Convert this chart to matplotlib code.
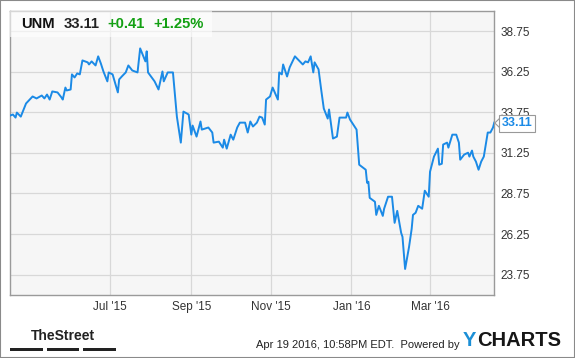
import matplotlib
matplotlib.use("Agg")
import matplotlib.pyplot as plt
from matplotlib.patches import Rectangle, Polygon
import pandas as pd

plt.rcParams["font.family"] = ["Liberation Sans", "DejaVu Sans"]

# UNM daily close (days counted from the first session)
start_date = "2015-04-16"
day_offsets = [
    0, 2, 4, 5, 8, 12, 17, 20, 24, 26, 28, 30, 32, 36, 39, 40, 42, 43, 46, 47,
    49, 51, 53, 55, 59, 60, 62, 65, 67, 69, 71, 74, 75, 78, 82, 83, 85, 88, 90, 93,
    97, 99, 103, 104, 105, 110, 113, 116, 117, 120, 124, 127, 130, 132, 136, 138, 139, 142, 145, 146,
    151, 154, 155, 159, 162, 163, 165, 168, 170, 173, 175, 179, 181, 183, 185, 188, 190, 192, 194, 195,
    198, 200, 204, 205, 207, 208, 211, 213, 217, 223, 225, 227, 229, 231, 232, 235, 237, 239, 242, 243,
    246, 249, 251, 256, 257, 259, 264, 266, 271, 272, 273, 274, 278, 279, 281, 284, 285, 288, 290, 291,
    293, 295, 298, 299, 301, 304, 306, 307, 309, 311, 314, 316, 319, 320, 323, 326, 327, 329, 330, 333,
    334, 337, 340, 342, 343, 346, 349, 350, 352, 353, 355, 357, 359, 361, 364, 366, 368, 369,
]
prices = [
    33.55, 33.61, 33.42, 33.73, 33.48, 34.29, 34.72, 34.60, 34.78, 34.60,
    34.84, 34.53, 35.03, 34.97, 34.66, 34.53, 35.27, 35.09, 35.15, 36.08,
    35.89, 36.14, 36.08, 36.94, 36.82, 36.69, 36.88, 36.63, 37.19, 36.76,
    36.26, 35.65, 36.20, 36.08, 34.97, 35.77, 35.95, 36.20, 36.63, 36.32,
    36.20, 37.68, 36.88, 37.50, 36.20, 35.65, 35.15, 36.26, 35.65, 36.20,
    36.20, 33.48, 31.88, 33.79, 33.61, 32.37, 32.93, 32.25, 33.18, 32.68,
    32.81, 32.50, 31.88, 31.94, 31.57, 32.06, 31.51, 32.37, 32.06, 32.81,
    33.11, 33.11, 32.50, 33.18, 32.87, 33.11, 33.48, 33.42, 32.99, 34.53,
    34.72, 35.27, 34.53, 36.20, 36.08, 36.69, 35.95, 36.51, 37.19, 36.69,
    36.88, 36.82, 37.19, 36.20, 36.82, 36.39, 35.15, 33.98, 33.36, 33.92,
    32.13, 32.25, 33.42, 33.42, 33.73, 33.30, 32.68, 30.52, 30.21, 29.41,
    29.47, 28.48, 28.24, 27.43, 27.99, 27.37, 27.81, 28.55, 28.55, 28.55,
    26.94, 27.68, 26.32, 26.08, 24.10, 25.46, 26.57, 27.43, 27.56, 27.99,
    27.81, 28.92, 28.55, 30.09, 31.02, 31.51, 30.52, 30.58, 31.76, 31.88,
    31.57, 32.37, 32.37, 31.88, 30.83, 31.14, 31.26, 31.02, 31.39, 31.02,
    30.71, 30.21, 30.71, 31.02, 32.50, 32.50, 32.81, 33.11,
]
y_ticks = [23.75, 26.25, 28.75, 31.25, 33.75, 36.25, 38.75]
x_tick_dates = ["2015-07-01", "2015-09-01", "2015-11-01", "2016-01-01", "2016-03-01"]
x_tick_labels = ["Jul '15", "Sep '15", "Nov '15", "Jan '16", "Mar '16"]
ticker_name = "UNM"
last_price = "33.11"
change_abs = "+0.41"
change_pct = "+1.25%"

dates = pd.Timestamp(start_date) + pd.to_timedelta(day_offsets, unit="D")

W, H = 575, 358
fig = plt.figure(figsize=(W / 100, H / 100), dpi=100)
fig.patch.set_facecolor("white")


def px(x, y):
    # pixel position (from top-left) -> figure fraction
    return x / W, 1 - y / H


ax_l, ax_r, ax_t, ax_b = 10.3, 494.3, 10.7, 295.0
ax = fig.add_axes([ax_l / W, 1 - ax_b / H, (ax_r - ax_l) / W, (ax_b - ax_t) / H])
ax.set_facecolor("#f6f6f6")

ax.plot(dates, prices, color="#1b8ae6", linewidth=1.4, zorder=3)

ax.set_xlim(pd.Timestamp(start_date), dates[-1])
ax.set_ylim(22.5, 40.0)
ax.set_yticks(y_ticks)
ax.set_yticklabels([f"{t:.2f}" for t in y_ticks])
ax.set_xticks(pd.to_datetime(x_tick_dates))
ax.set_xticklabels(x_tick_labels)
ax.yaxis.tick_right()
ax.tick_params(axis="both", length=0, labelsize=8.5, labelcolor="#333333")
ax.tick_params(axis="y", pad=4.5)
ax.tick_params(axis="x", pad=4)
ax.grid(True, color="#d8d8d8", linewidth=0.9)
ax.set_axisbelow(True)
for sp in ax.spines.values():
    sp.set_color("#9a9a9a")
    sp.set_linewidth(1.0)

# header box with quote
x0, y0 = px(10.3, 36.7)
x1, y1 = px(212, 10.7)
fig.patches.append(Rectangle((x0, y0), x1 - x0, y1 - y0, transform=fig.transFigure,
                             facecolor="white", alpha=0.6, edgecolor="none", zorder=5))
hy = 23.5
hsize = 10.6
fig.text(*px(21.5, hy), ticker_name, fontsize=hsize, fontweight="bold", color="#111111",
         va="center", ha="left", zorder=6)
fig.text(*px(64, hy), last_price, fontsize=hsize, fontweight="bold", color="#222222",
         va="center", ha="left", zorder=6)
fig.text(*px(107.5, hy), change_abs, fontsize=hsize, fontweight="bold", color="#13a013",
         va="center", ha="left", zorder=6)
fig.text(*px(153, hy), change_pct, fontsize=hsize, fontweight="bold", color="#13a013",
         va="center", ha="left", zorder=6)

# last price callout on the right
tri = [px(494.8, 123), px(500.5, 117.5), px(500.5, 128.5)]
fig.patches.append(Polygon(tri, closed=True, transform=fig.transFigure,
                           facecolor="white", edgecolor="#999999", linewidth=0.8, zorder=6))
fig.text(*px(501.5, 123.5), last_price, fontsize=9, fontweight="bold", color="#1b8ae6",
         va="center", ha="left", zorder=7,
         bbox=dict(boxstyle="square,pad=0.22", facecolor="white", edgecolor="#999999",
                   linewidth=0.8))

# footer: TheStreet logo
fig.text(*px(63, 335.5), "TheStreet", fontsize=10, fontweight="bold", color="#222222",
         family=["Liberation Sans Narrow", "Liberation Sans", "DejaVu Sans"],
         va="center", ha="center")
for bx0, bx1 in [(10, 42.7), (46.7, 79.3), (83.3, 116)]:
    bl, bb = px(bx0, 350.5)
    br, bt = px(bx1, 347.5)
    fig.patches.append(Rectangle((bl, bb), br - bl, bt - bb, transform=fig.transFigure,
                                 facecolor="#222222", edgecolor="none"))

fig.text(*px(460, 345), "Apr 19 2016, 10:58PM EDT.  Powered by", fontsize=8,
         color="#222222", va="center", ha="right")
fig.text(*px(462.5, 341), "Y", fontsize=14.5, fontweight="bold", color="#1b8fd6",
         va="center", ha="left")
fig.text(*px(477.5, 341), "CHARTS", fontsize=14.5, fontweight="bold", color="#161616",
         va="center", ha="left")

# outer frame
fig.patches.append(Rectangle((0, 0), 1, 1, transform=fig.transFigure, fill=False,
                             edgecolor="#8a8a8a", linewidth=1.5))

fig.savefig("out.png", dpi=100)
